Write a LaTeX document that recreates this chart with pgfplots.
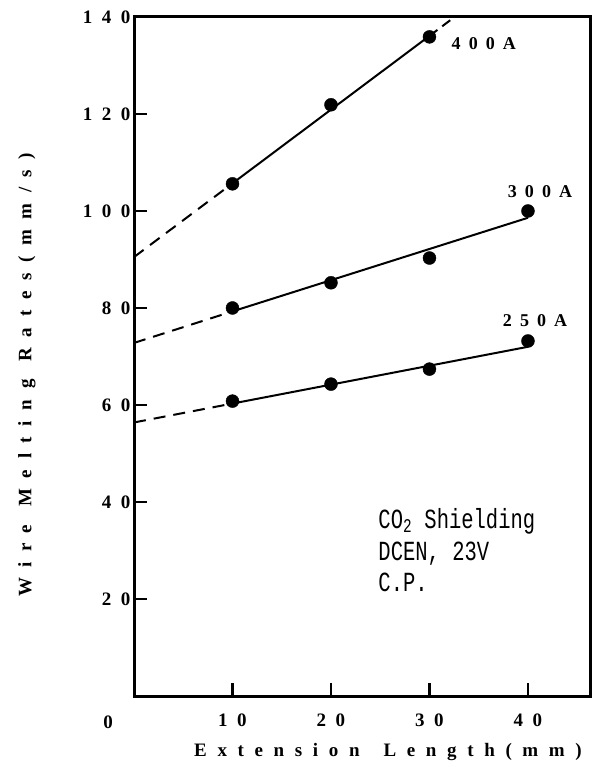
\documentclass[border=0pt]{standalone}
\usepackage{pgfplots}
\pgfplotsset{compat=1.18}
\usepackage{graphicx}
\usepackage{fontspec}
\setmainfont{Liberation Serif}
\newfontfamily\tickfont[LetterSpace=50]{Liberation Serif}
\newfontfamily\labfont[LetterSpace=56]{Liberation Serif}
\newfontfamily\curfont[LetterSpace=45]{Liberation Serif}
\newfontfamily\monofont{Liberation Mono}
\newcommand{\tf}{\tickfont\bfseries\fontsize{19}{22}\selectfont}
\newcommand{\lf}{\labfont\bfseries\fontsize{19}{22}\selectfont}
\newcommand{\cf}{\curfont\bfseries\fontsize{18}{21}\selectfont}
\newcommand{\mt}[1]{\scalebox{1}[1.35]{\monofont\fontsize{20.5}{24}\selectfont #1}}
\begin{document}
\begin{tikzpicture}[x=1pt,y=1pt]
\path[use as bounding box] (0,0) rectangle (596,767);
\begin{axis}[at={(134pt,71pt)}, anchor=south west, scale only axis,
  width=456pt, height=679pt,
  xmin=0, xmax=46.3, ymin=0, ymax=140,
  xtick={10,20,30,40}, ytick={20,40,60,80,100,120,140},
  tick align=inside, xtick pos=bottom, ytick pos=left,
  major tick length=13pt,
  axis line style={line width=3pt},
  every tick/.style={line width=2.5pt, black},
  /pgf/number format/assume math mode=true,
  tick label style={font=\tf},
  xticklabel style={yshift=-14pt},
  yticklabel style={xshift=0pt},
  xlabel={Extension\hspace{24pt}Length(mm)},
  ylabel={Wire\hspace{18pt}Melting\hspace{18pt}Rates(mm/s)},
  every axis x label/.style={at={(axis description cs:0.557,-0.0825)}, anchor=center, font=\lf},
  every axis y label/.style={at={(axis description cs:-0.235,0.473)}, anchor=center, rotate=90, font=\lf},
  clip=true,
]
% 400A
\addplot[black, line width=2pt, dash pattern=on 12pt off 8pt] coordinates {(0,90.5) (10,105.7)};
\addplot[black, line width=2pt] coordinates {(10,105.7) (30,136.1)};
\addplot[black, line width=2pt, dash pattern=on 10pt off 6pt] coordinates {(30,136.1) (33,140.7)};
% 300A
\addplot[black, line width=2pt, dash pattern=on 12pt off 8pt] coordinates {(0,72.8) (10,79.3)};
\addplot[black, line width=2pt] coordinates {(10,79.3) (40,98.6)};
% 250A
\addplot[black, line width=2pt, dash pattern=on 12pt off 8pt] coordinates {(0,56.4) (10,60.3)};
\addplot[black, line width=2pt] coordinates {(10,60.3) (40,72.0)};
% markers
\addplot[only marks, mark=*, mark size=6.5pt, black] coordinates {(10,105.6) (20,121.9) (30,135.9)};
\addplot[only marks, mark=*, mark size=6.5pt, black] coordinates {(10,80.0) (20,85.2) (30,90.3) (40,100.0)};
\addplot[only marks, mark=*, mark size=6.5pt, black] coordinates {(10,60.8) (20,64.3) (30,67.4) (40,73.2)};
\node[anchor=west, font=\cf] at (axis cs:31.9,134.6) {400A};
\node[anchor=west, font=\cf] at (axis cs:37.6,104.1) {300A};
\node[anchor=west, font=\cf] at (axis cs:37.1,77.5) {250A};
\node[anchor=base west, inner sep=0pt] at (axis cs:24.8,34.5) {\mt{CO\textsubscript{2} Shielding}};
\node[anchor=base west, inner sep=0pt] at (axis cs:24.8,27.9) {\mt{DCEN, 23V}};
\node[anchor=base west, inner sep=0pt] at (axis cs:24.8,21.5) {\mt{C.P.}};
\end{axis}
\node[font=\tf] at (108,45) {0};
\end{tikzpicture}
\end{document}
